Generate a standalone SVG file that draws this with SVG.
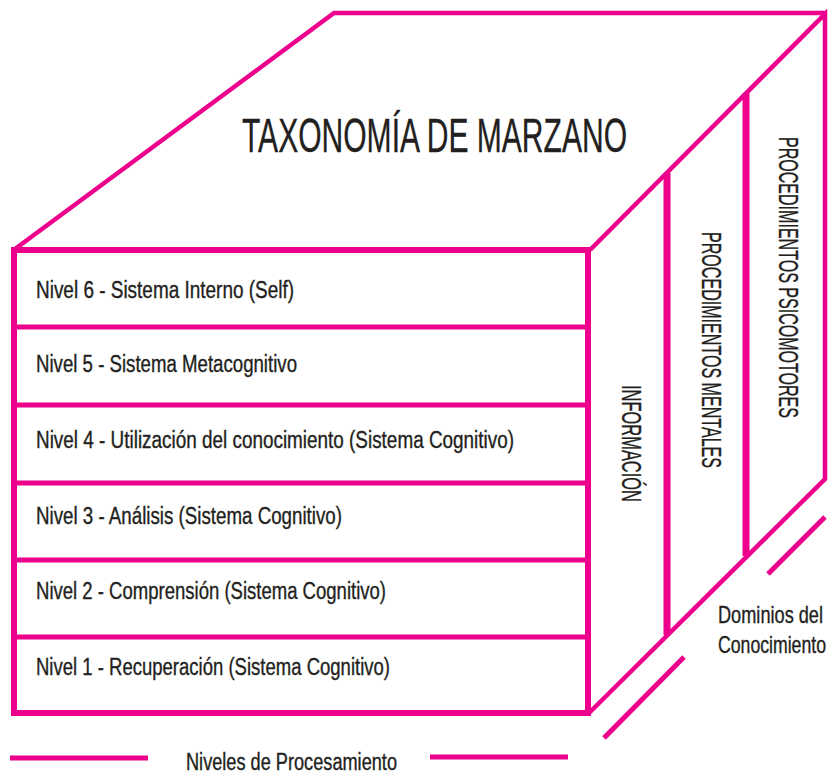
<svg xmlns="http://www.w3.org/2000/svg" width="830" height="774" viewBox="0 0 830 774">
<style>
.e{stroke:#EC008C;fill:none;stroke-linecap:butt}
.t{font-family:"Liberation Sans",Arial,sans-serif;fill:#231f20;stroke:#231f20;stroke-width:0.35px}
.lv{font-size:23px}
.vt{font-size:28px}
</style>
<rect width="830" height="774" fill="#ffffff"/>
<g id="cube">
  <path class="e" stroke-width="4.5" d="M15,249 L334,13 L826,13"/>
  <path class="e" stroke-width="4.5" d="M590,250 L825,14 L825,479 L588,714"/>
  <path class="e" stroke-width="6" d="M14,250 H588 V713 H14 Z"/>
</g>
<g id="rows">
  <g id="nivel6"><text class="t lv" x="36" y="298" textLength="258" lengthAdjust="spacingAndGlyphs">Nivel 6 - Sistema Interno (Self)</text></g>
  <line class="e" stroke-width="5" x1="14" y1="327" x2="588" y2="327"/>
  <g id="nivel5"><text class="t lv" x="36" y="372" textLength="261" lengthAdjust="spacingAndGlyphs">Nivel 5 - Sistema Metacognitivo</text></g>
  <line class="e" stroke-width="5" x1="14" y1="405" x2="588" y2="405"/>
  <g id="nivel4"><text class="t lv" x="36" y="448" textLength="478" lengthAdjust="spacingAndGlyphs">Nivel 4 - Utilización del conocimiento (Sistema Cognitivo)</text></g>
  <line class="e" stroke-width="5" x1="14" y1="483" x2="588" y2="483"/>
  <g id="nivel3"><text class="t lv" x="36" y="524" textLength="306" lengthAdjust="spacingAndGlyphs">Nivel 3 - Análisis (Sistema Cognitivo)</text></g>
  <line class="e" stroke-width="5" x1="14" y1="560" x2="588" y2="560"/>
  <g id="nivel2"><text class="t lv" x="36" y="599" textLength="350" lengthAdjust="spacingAndGlyphs">Nivel 2 - Comprensión (Sistema Cognitivo)</text></g>
  <line class="e" stroke-width="5" x1="14" y1="637" x2="588" y2="637"/>
  <g id="nivel1"><text class="t lv" x="36" y="675" textLength="354" lengthAdjust="spacingAndGlyphs">Nivel 1 - Recuperación (Sistema Cognitivo)</text></g>
</g>
<g id="title"><text class="t" x="242" y="152" font-size="49" textLength="385" lengthAdjust="spacingAndGlyphs">TAXONOMÍA DE MARZANO</text></g>
<g id="dominios">
  <line class="e" stroke-width="7" x1="667" y1="173" x2="667" y2="635"/>
  <line class="e" stroke-width="7" x1="746" y1="93" x2="746" y2="556"/>
  <g id="informacion"><text class="t vt" transform="translate(622,385) rotate(90)" textLength="117" lengthAdjust="spacingAndGlyphs">INFORMACIÓN</text></g>
  <g id="mentales"><text class="t vt" transform="translate(702,232) rotate(90)" textLength="236" lengthAdjust="spacingAndGlyphs">PROCEDIMIENTOS MENTALES</text></g>
  <g id="psicomotores"><text class="t vt" transform="translate(779,137) rotate(90)" textLength="281" lengthAdjust="spacingAndGlyphs">PROCEDIMIENTOS PSICOMOTORES</text></g>
</g>
<g id="legend-dominios">
  <line class="e" stroke-width="5" x1="825" y1="517" x2="768" y2="574"/>
  <line class="e" stroke-width="5" x1="684" y1="657" x2="604" y2="738"/>
  <text class="t" x="718" y="623" font-size="24" textLength="105" lengthAdjust="spacingAndGlyphs">Dominios del</text>
  <text class="t" x="718" y="653" font-size="24" textLength="108" lengthAdjust="spacingAndGlyphs">Conocimiento</text>
</g>
<g id="legend-niveles">
  <line class="e" stroke-width="5" x1="10" y1="758" x2="148" y2="758"/>
  <line class="e" stroke-width="5" x1="430" y1="757" x2="568" y2="757"/>
  <text class="t" x="186" y="770" font-size="23" textLength="211" lengthAdjust="spacingAndGlyphs">Niveles de Procesamiento</text>
</g>
</svg>
